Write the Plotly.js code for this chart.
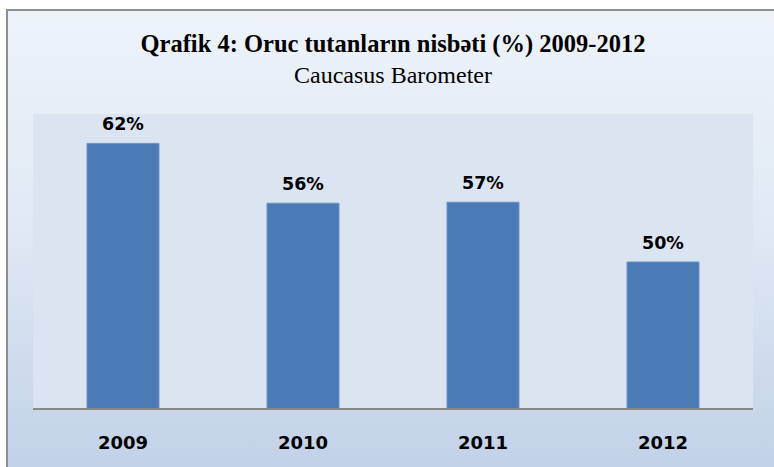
<!DOCTYPE html>
<html>
<head>
<meta charset="utf-8">
<script src="https://cdn.plot.ly/plotly-3.0.1.min.js"></script>
<style>
  html, body { margin: 0; padding: 0; background: #ffffff; width: 774px; height: 467px; overflow: hidden; }
  #frame { position: absolute; left: 6px; top: 9px; width: 800px; height: 500px;
           border-left: 2px solid #8e8e8e; border-top: 2px solid #8e8e8e;
           background: linear-gradient(to bottom, #eef3fa 0%, #dfe8f4 45%, #bccde5 100%); }
  #chart { position: absolute; left: 0; top: 0; width: 774px; height: 467px; }
</style>
</head>
<body>
<div id="frame"></div>
<div id="chart"></div>
<script>
const years = ["2009", "2010", "2011", "2012"];
const shares = [62.0, 55.9, 56.0, 49.9];
const shareLabels = ["62%", "56%", "57%", "50%"];
const titleMain = "Qrafik 4: Oruc tutanların nisbəti (%) 2009-2012";
const titleSub = "Caucasus Barometer";

const trace = {
  type: "bar",
  x: years,
  y: shares,
  marker: { color: "#4a7bb7", line: { color: "#6e94c6", width: 1 } },
  hoverinfo: "x+y"
};

const annotations = years.map((yr, i) => ({
  x: i, y: shares[i], xref: "x", yref: "y",
  text: "<b>" + shareLabels[i] + "</b>",
  showarrow: false, yanchor: "bottom", yshift: 7,
  font: { family: "DejaVu Sans", size: 17.5, color: "#000000" }
}));

const layout = {
  width: 774, height: 467,
  margin: { l: 33, r: 21, t: 114, b: 59 },
  paper_bgcolor: "rgba(0,0,0,0)",
  plot_bgcolor: "#dbe5f1",
  bargap: 0.6,
  showlegend: false,
  title: {
    text: "<b><span style=\"font-size:24.5px\">" + titleMain + "</span></b><br>" + titleSub,
    x: 0.5, xref: "paper",
    y: 0.889, yref: "container", yanchor: "middle",
    font: { family: "Liberation Serif", size: 24, color: "#000000" }
  },
  xaxis: {
    type: "category",
    categoryorder: "array", categoryarray: years,
    range: [-0.5, years.length - 0.5],
    showline: true, linecolor: "#898989", linewidth: 2,
    ticks: "", showgrid: false, zeroline: false,
    ticklabelstandoff: 17,
    tickfont: { family: "DejaVu Sans", size: 18, color: "#000000", weight: "bold" }
  },
  yaxis: {
    range: [35, 65],
    showticklabels: false, showgrid: false, zeroline: false, showline: false, ticks: ""
  },
  annotations: annotations
};

Plotly.newPlot("chart", [trace], layout, { displayModeBar: false, staticPlot: true });
</script>
</body>
</html>
